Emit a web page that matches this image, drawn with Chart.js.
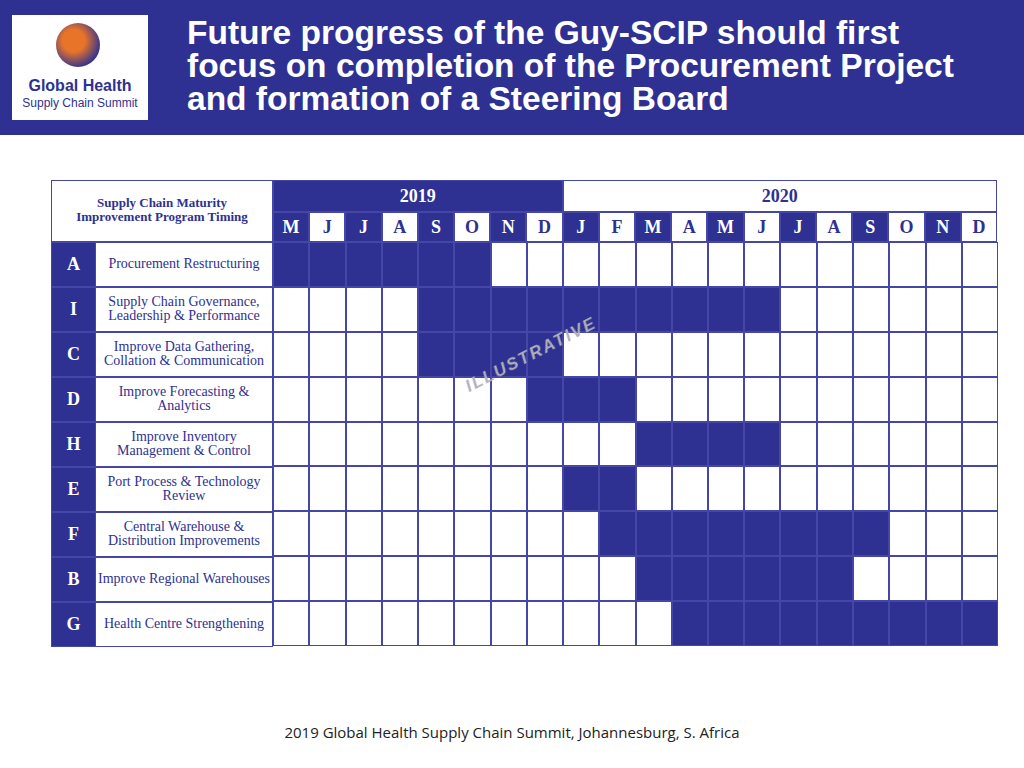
<!DOCTYPE html>
<html><head><meta charset="utf-8">
<script src="https://cdn.jsdelivr.net/npm/chart.js@4"></script>
<style>
body{margin:0;width:1024px;height:768px;position:relative;background:#fff;font-family:"Liberation Serif",serif;overflow:hidden}
.abs{position:absolute;box-sizing:border-box}
#hdr{left:0;top:0;width:1024px;height:135px;background:#2e3192}
#title{left:187px;top:16px;color:#fff;font:bold 33.5px/33px "Liberation Sans",Arial,sans-serif;white-space:nowrap}
#logo{left:12px;top:15px;width:136px;height:105px;background:#fff}
.cell{position:absolute;box-sizing:border-box;border:1px solid #4646a6;display:flex;align-items:center;justify-content:center;text-align:center}
.dark{background:#2e3192;color:#fff}
#foot{left:0;width:1024px;top:722px;text-align:center;font:15px "Open Sans",sans-serif;color:#222}
#wm{left:459px;top:345px;color:#b0b0b8;font:italic bold 17px "Liberation Sans",sans-serif;letter-spacing:2px;transform:rotate(-27deg);transform-origin:center}
</style></head><body>
<div id="hdr" class="abs"></div>
<div id="logo" class="abs">
 <div class="abs" style="left:44px;top:8px;width:44px;height:44px;border-radius:50%;background:radial-gradient(circle at 40% 40%,#e8742a 30%,#2e3192 75%)"></div>
 <div class="abs" style="left:0;top:62px;width:136px;text-align:center;font:bold 16px 'Liberation Sans',sans-serif;color:#2e3192">Global Health</div>
 <div class="abs" style="left:0;top:81px;width:136px;text-align:center;font:12px 'Liberation Sans',sans-serif;color:#2e3192">Supply Chain Summit</div>
</div>
<div id="title" class="abs">Future progress of the Guy-SCIP should first<br>focus on completion of the Procurement Project<br>and formation of a Steering Board</div>
<div id="tbl"></div>
<div class="abs" style="left:273px;top:242px;width:725px;height:404px"><canvas id="c"></canvas></div>
<div id="wm" class="abs">ILLUSTRATIVE</div>
<div id="foot" class="abs">2019 Global Health Supply Chain Summit, Johannesburg, S. Africa</div>
<script>
const letters=["A","I","C","D","H","E","F","B","G"];
const tasks=["Procurement Restructuring","Supply Chain Governance,<br>Leadership & Performance","Improve Data Gathering,<br>Collation & Communication","Improve Forecasting &<br>Analytics","Improve Inventory<br>Management & Control","Port Process & Technology<br>Review","Central Warehouse &<br>Distribution Improvements","Improve Regional Warehouses","Health Centre Strengthening"];
const months=["M","J","J","A","S","O","N","D","J","F","M","A","M","J","J","A","S","O","N","D"];
const years=["2019","2020"];
const startMonth=[0,4,4,7,10,8,9,10,11];
const endMonth=[6,14,8,10,14,10,17,16,20];

const t=document.getElementById('tbl');
function cell(x,y,w,h,html,cls,style){const d=document.createElement('div');d.className='cell '+(cls||'');d.style.cssText=`left:${x}px;top:${y}px;width:${w}px;height:${h}px;`+(style||'');d.innerHTML=html;t.appendChild(d);}
const X0=273,CW=724/20;
cell(51,180,222,62,'Supply Chain Maturity<br>Improvement Program Timing','','font-weight:bold;font-size:13px;line-height:14px;color:#2e3192;align-items:flex-start;padding-top:15px');
cell(X0,180,CW*8,32,years[0],'dark','font-weight:bold;font-size:18px');
cell(X0+CW*8,180,CW*12,32,years[1],'','font-weight:bold;font-size:18px;color:#2e3192');
months.forEach((m,i)=>cell(X0+CW*i,212,CW,30,m,i%2?'':'dark','font-weight:bold;font-size:18px;'+(i%2?'color:#2e3192':'')));
letters.forEach((l,i)=>{
 cell(51,242+45*i,45,45,l,'dark','font-weight:bold;font-size:18px');
 cell(95,242+45*i,178,45,tasks[i],'','font-size:14px;line-height:14px;color:#2e3192;white-space:nowrap;align-items:flex-start;padding-top:'+(tasks[i].includes('<br>')?'7':'14')+'px');
});
new Chart(document.getElementById('c'),{type:'bar',
 data:{labels:letters,datasets:[{data:letters.map((l,i)=>[startMonth[i],endMonth[i]]),backgroundColor:'#2e3192',barPercentage:1,categoryPercentage:1,borderWidth:0}]},
 options:{indexAxis:'y',responsive:true,maintainAspectRatio:false,animation:false,layout:{padding:0},
  plugins:{legend:{display:false},tooltip:{enabled:false}},
  scales:{x:{min:0,max:20,ticks:{display:false,stepSize:1},grid:{color:'#4646a6',lineWidth:2,drawTicks:false,z:1},border:{display:false}},
   y:{ticks:{display:false},grid:{color:'#4646a6',lineWidth:2,drawTicks:false,z:1,offset:true},border:{display:false}}}}});
</script></body></html>
